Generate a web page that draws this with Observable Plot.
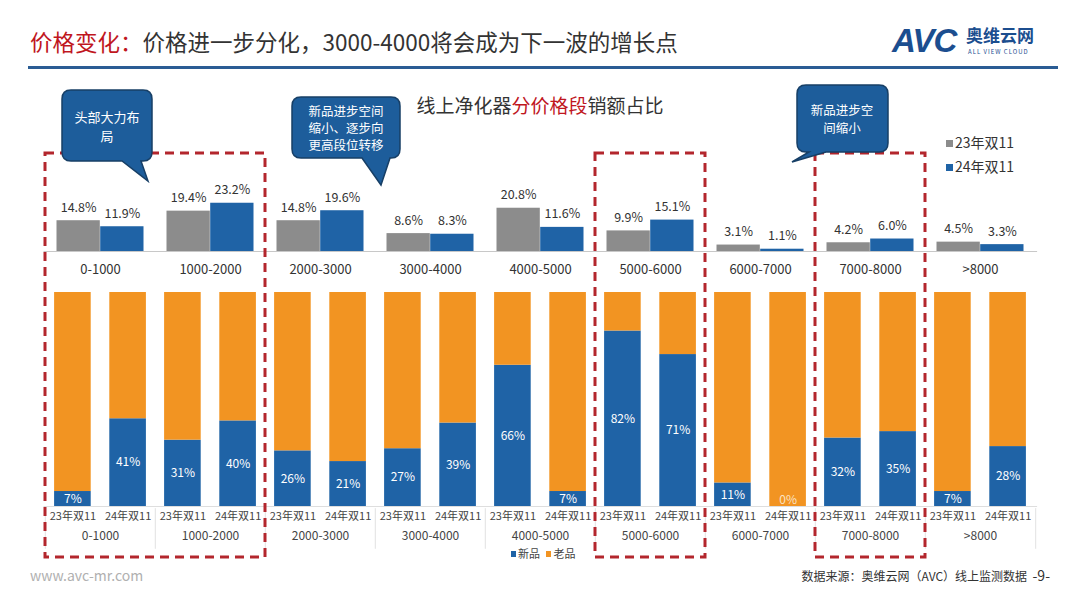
<!DOCTYPE html>
<html><head><meta charset="utf-8">
<script src="https://cdn.jsdelivr.net/npm/d3@7"></script>
<script src="https://cdn.jsdelivr.net/npm/@observablehq/plot@0.6"></script>
<style>
body{margin:0;background:#fff;}
#page{position:relative;width:1080px;height:608px;overflow:hidden;font-family:"Noto Sans CJK SC","Noto Sans",sans-serif;background:#fff;}
.abs{position:absolute;white-space:nowrap;}
.sq{display:inline-block;width:7px;height:7px;margin-right:2px;vertical-align:middle;position:relative;top:-1px;}
</style></head><body><div id="page">
<div class="abs" style="left:30px;top:26px;font-size:22.5px;color:#333;line-height:30px;"><span style="color:#c0161e">价格变化：</span>价格进一步分化，3000-4000将会成为下一波的增长点</div>
<div class="abs" style="left:28px;top:66px;width:1030px;height:3px;background:#2a5c94"></div>
<div class="abs" style="left:892px;top:22px;font-size:33px;font-weight:bold;font-style:italic;color:#1c4e8f;line-height:38px;letter-spacing:-1px;font-family:'Liberation Sans',sans-serif;">AVC</div>
<div class="abs" style="left:966px;top:24px;font-size:17px;font-weight:bold;color:#1c4e8f;line-height:22px;">奥维云网</div>
<div class="abs" style="left:968px;top:48px;font-size:6px;color:#1c4e8f;line-height:8px;letter-spacing:1px;">ALL VIEW CLOUD</div>
<div class="abs" style="left:0;width:1080px;top:92px;text-align:center;font-size:19px;color:#333;line-height:26px;">线上净化器<span style="color:#c0161e">分价格段</span>销额占比</div>
<div id="topc" class="abs" style="left:0;top:160px;"></div>
<div id="botc" class="abs" style="left:0;top:285px;"></div>
<div class="abs" style="left:946px;top:132px;font-size:14px;color:#333;line-height:20px;z-index:5"><span class="sq" style="background:#8c8c8c"></span>23年双11</div>
<div class="abs" style="left:946px;top:156px;font-size:14px;color:#333;line-height:20px;z-index:5"><span class="sq" style="background:#1f63a6"></span>24年双11</div>
<div class="abs" style="left:511px;top:545px;font-size:11px;color:#444;line-height:16px;z-index:5"><span class="sq" style="background:#1f63a6;width:5px;height:6px"></span>新品 <span class="sq" style="background:#f29422;width:5px;height:6px;margin-left:4px"></span>老品</div>
<div class="abs" style="left:30px;top:565px;font-size:14px;color:#b0b0b0;line-height:20px;">www.avc-mr.com</div>
<div class="abs" style="right:30px;top:566px;font-size:12px;color:#333;line-height:18px;">数据来源：奥维云网（AVC）线上监测数据 &nbsp;<span style="font-size:14px">-9-</span></div>
</div>
<script>
const categories = ["0-1000","1000-2000","2000-3000","3000-4000","4000-5000","5000-6000","6000-7000","7000-8000",">8000"];
const years = ["23年双11","24年双11"];
const share23 = [14.8,19.4,14.8,8.6,20.8,9.9,3.1,4.2,4.5];
const share24 = [11.9,23.2,19.6,8.3,11.6,15.1,1.1,6.0,3.3];
const newShare23 = [7,31,26,27,66,82,11,32,7];
const newShare24 = [41,40,21,39,7,71,0,35,28];
const types = ["新品","老品"];
const highlights = [["0-1000","1000-2000"],["5000-6000"],["7000-8000"]];

const GREY="#8c8c8c", BLUE="#1f63a6", ORANGE="#f29422", RED="#b3262d";
const FONT='"Noto Sans CJK SC","Noto Sans",sans-serif';

const top23 = categories.map((c,i)=>({cat:c, v:share23[i]}));
const top24 = categories.map((c,i)=>({cat:c, v:share24[i]}));
const half = 110.4/2;

const topChart = Plot.plot({
  width:1080, height:125, marginTop:39, marginBottom:34, marginLeft:43.5, marginRight:42.9,
  style:{fontFamily:FONT, fontSize:"13px", color:"#333", background:"none", overflow:"visible"},
  x:{type:"band", domain:categories, padding:0, label:null, tickSize:0, tickPadding:13},
  y:{domain:[0,25], axis:null},
  marks:[
    Plot.barY(top23,{x:"cat", y:"v", fill:GREY, insetLeft:11.5, insetRight:half}),
    Plot.barY(top24,{x:"cat", y:"v", fill:BLUE, insetLeft:half, insetRight:11.5}),
    Plot.ruleY([0],{stroke:"#c8c8c8"}),
    Plot.text(top23,{x:"cat", y:"v", text:d=>d.v.toFixed(1)+"%", dx:-21.9, dy:-9, lineAnchor:"bottom", fontSize:12.5, fill:"#333"}),
    Plot.text(top24,{x:"cat", y:"v", text:d=>d.v.toFixed(1)+"%", dx:21.9, dy:-9, lineAnchor:"bottom", fontSize:12.5, fill:"#333"})
  ]
});
document.getElementById("topc").appendChild(topChart);

const stack = (arr)=>categories.flatMap((c,i)=>[{cat:c,type:types[0],v:arr[i]/100},{cat:c,type:types[1],v:1-arr[i]/100}]);
const bot23 = stack(newShare23), bot24 = stack(newShare24);
const lab23 = categories.map((c,i)=>({cat:c, v:newShare23[i]}));
const lab24 = categories.map((c,i)=>({cat:c, v:newShare24[i]}));
const off = 27.6;
const labelY = d => Math.max(d.v/200, 0.03);

const botChart = Plot.plot({
  width:1080, height:275, marginTop:7, marginBottom:54, marginLeft:43.5, marginRight:42.9,
  style:{fontFamily:FONT, fontSize:"12px", color:"#444", background:"none", overflow:"visible"},
  x:{type:"band", domain:categories, padding:0, axis:null},
  y:{domain:[0,1], axis:null},
  color:{domain:types, range:[BLUE, ORANGE]},
  marks:[
    Plot.barY(bot23,{x:"cat", y:"v", fill:"type", insetLeft:9.1, insetRight:64.3}),
    Plot.barY(bot24,{x:"cat", y:"v", fill:"type", insetLeft:64.3, insetRight:9.1}),
    Plot.ruleY([0],{stroke:"#dedede"}),
    Plot.ruleX(categories,{x:d=>d, dx:-half, y1:-0.01, y2:-0.2, stroke:"#e2e2e2"}),
    Plot.ruleX([categories[categories.length-1]],{x:d=>d, dx:half, y1:-0.01, y2:-0.2, stroke:"#e2e2e2"}),
    Plot.text(lab23,{x:"cat", y:labelY, text:d=>d.v+"%", dx:-off, fill:"white", fontSize:12}),
    Plot.text(lab24,{x:"cat", y:labelY, text:d=>d.v+"%", dx:off, fill:d=>d.v===0?"#fbe3c4":"white", fontSize:12}),
    Plot.text(categories,{x:d=>d, text:()=>years[0], frameAnchor:"bottom", dy:13, dx:-off, fontSize:11, fill:"#444"}),
    Plot.text(categories,{x:d=>d, text:()=>years[1], frameAnchor:"bottom", dy:13, dx:off, fontSize:11, fill:"#444"}),
    Plot.text(categories,{x:d=>d, text:d=>d, frameAnchor:"bottom", dy:33, fontSize:12, fill:"#444"})
  ]
});
document.getElementById("botc").appendChild(botChart);

// overlay: highlight boxes and callouts
const xs = botChart.scale("x");
const ov = d3.select("#page").append("svg").attr("class","abs")
  .attr("width",1080).attr("height",608).style("left","0px").style("top","0px").style("z-index",10).style("pointer-events","none");
highlights.forEach(g=>{
  const x0 = xs.apply(g[0]), x1 = xs.apply(g[g.length-1]) + xs.bandwidth;
  ov.append("rect").attr("x",x0).attr("y",153).attr("width",x1-x0).attr("height",404)
    .attr("fill","none").attr("stroke",RED).attr("stroke-width",3).attr("stroke-dasharray","9 6");
});
const callouts = [
  {path:"M71,90 H143 Q152,90 152,99 V152 Q152,161 143,161 H141 L148,181 L122,161 H71 Q62,161 62,152 V99 Q62,90 71,90 Z",
   lines:["头部大力布","局"], cx:107, y0:118, lh:19, fs:13},
  {path:"M301,97 H391 Q400,97 400,106 V149 Q400,158 391,158 H390 L381,185 L362,158 H301 Q292,158 292,149 V106 Q292,97 301,97 Z",
   lines:["新品进步空间","缩小、逐步向","更高段位转移"], cx:346, y0:113, lh:17, fs:12.5},
  {path:"M806,85 H879 Q888,85 888,94 V143 Q888,152 879,152 H826 L792,162 L809,152 H806 Q797,152 797,143 V94 Q797,85 806,85 Z",
   lines:["新品进步空","间缩小"], cx:842, y0:112, lh:18, fs:12.5}
];
callouts.forEach(c=>{
  ov.append("path").attr("d",c.path).attr("fill","#1d5d9b").attr("stroke","#173f66").attr("stroke-width",1.5);
  c.lines.forEach((t,i)=>{
    ov.append("text").attr("x",c.cx).attr("y",c.y0+i*c.lh).attr("text-anchor","middle").attr("dominant-baseline","middle")
      .attr("fill","white").attr("font-size",c.fs).attr("font-family",FONT).text(t);
  });
});
</script>
</body></html>
